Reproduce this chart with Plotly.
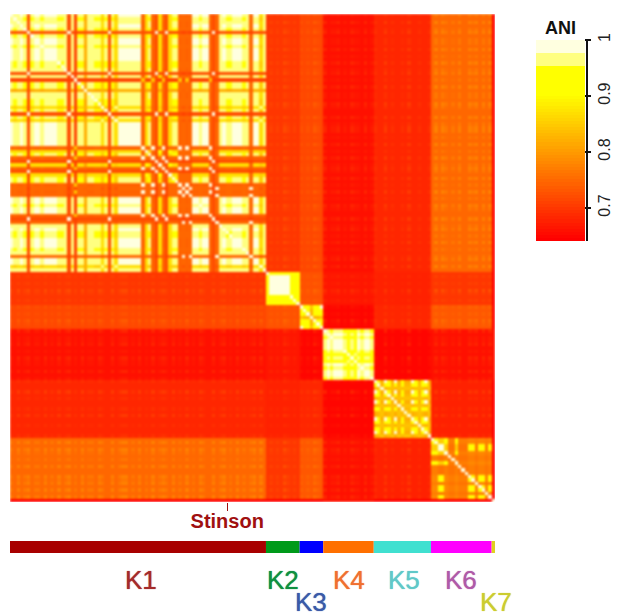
import plotly.graph_objects as go

W, H = 620, 616
cluster_names = ["K1", "K2", "K3", "K4", "K5", "K6", "K7"]
bar_colors = ["#a80000", "#009a1a", "#0000ff", "#ff7000", "#40e0d0", "#ff00ff", "#e0d020"]
label_colors = ["#a52a2a", "#0f9040", "#3a5aa8", "#f07030", "#60c8c8", "#b05aa8", "#cccc30"]

# strain types inside each cluster, read along the diagonal
k1_types = list("wbawbPbwwbwwwwbbaPaQbbGaabbCbPbCwwwwwwwRgbRPgRPgbbRURUwwbwwRPUawbbwwwbaUwwCa")
k2_types = list("bppppppbbb")
k3_types = list("abbObba")
k4_types = list("babaaabcbcabaab")
k5_types = list("abgabgagbggabgbag")
k6_types = list("nnmmnoonoooqqoqqoq")
k7_types = list("a")

k1_pairs = {"ww": .985, "aw": .965, "aa": .965, "ab": .955, "bw": .955, "bb": .935,
            "ag": .87, "gw": .87, "bg": .87, "gg": .93,
            "aP": .72, "bP": .72, "aQ": .71, "bQ": .71,
            "aR": .745, "bR": .75, "aU": .75, "bU": .75, "aG": .82, "bG": .81, "aC": .87, "bC": .85,
            "PP": .99, "QQ": 1.0, "RR": .99, "UU": .99, "CC": .96, "GG": 1.0,
            "PQ": .71, "PR": .72, "PU": .71, "GP": .72, "CP": .72, "QR": .84, "QU": .71,
            "GQ": .71, "CQ": .71, "RU": .73, "GR": .75, "CR": .74, "GU": .74, "CU": .73, "CG": .82}
k1_alias = {"w": "a", "g": "b"}
k2_pairs = {"pp": .985, "bp": .94, "bb": .93}
k3_pairs = {"aa": .985, "ab": .94, "bb": .93, "Oa": .84, "Ob": .82, "OO": 1.0}
k4_pairs = {"aa": .985, "ab": .96, "bb": .93, "ac": .93, "bc": .91, "cc": .96}
k5_pairs = {"aa": .985, "ab": .93, "bb": .94, "ag": .82, "bg": .83, "gg": .84}
k6_pairs = {"nn": .95, "mn": .85, "mm": .99, "qq": .93, "mq": .92, "nq": .78, "no": .77,
            "mo": .76, "oo": .76, "oq": .77}

between = [
    [None, .697, .715, .66, .68, .75, .641],
    [.697, None, .725, .665, .675, .70, .641],
    [.715, .725, None, .65, .68, .73, .641],
    [.66, .665, .65, None, .65, .66, .66],
    [.68, .675, .68, .65, None, .675, .641],
    [.75, .70, .73, .66, .675, None, .641],
    [.641, .641, .641, .66, .641, .641, None],
]
# speckle read from the off-diagonal blocks, per strain
k1_speck = "1020120110" "2010201201" "0201102100" "2012201020" "1020121020" "1020102100" "2012010201" "012020"
k2_speck = "0101021010"
k3_speck = "1010210"
k4_speck = "201120102110201"
k5_speck = "10020100102001001"
k6_speck = "020210102002120202"
k7_speck = "0"

stinson_index = [64]
stinson_label = ["<b>Stinson</b>"]
cb_ticks = [0.7, 0.8, 0.9, 1.0]
cb_text = ["0.7", "0.8", "0.9", "1"]

types = [k1_types, k2_types, k3_types, k4_types, k5_types, k6_types, k7_types]
pairs = [k1_pairs, k2_pairs, k3_pairs, k4_pairs, k5_pairs, k6_pairs, {"aa": 1.0}]
speck = [int(c) for c in k1_speck + k2_speck + k3_speck + k4_speck + k5_speck + k6_speck + k7_speck]
cluster_sizes = [len(t) for t in types]
owner, kind = [], []
for c, t in enumerate(types):
    owner += [c] * len(t)
    kind += t
n = len(kind)


def cell(i, j):
    if i == j:
        return 1.0
    if owner[i] != owner[j]:
        return between[owner[i]][owner[j]] + 0.006 * speck[i] * speck[j]
    table = pairs[owner[i]]
    a, b = kind[i], kind[j]
    v = table.get(a + b, table.get(b + a))
    if v is None:
        a, b = k1_alias.get(a, a), k1_alias.get(b, b)
        v = table.get(a + b, table.get(b + a))
    return v


z = [[cell(i, j) for j in range(n)] for i in range(n)]

# colour scale: stepped like R heat.colors
zmin, zmax = 0.641, 1.0
def sc(v):
    return (v - zmin) / (zmax - zmin)
scale = []
steps = 48
low, high = 0.641, 0.905
for k in range(steps):
    a, b = low + (high - low) * k / steps, low + (high - low) * (k + 1) / steps
    col = f"rgb(255,{round(255 * k / (steps - 1))},0)"
    scale += [[sc(a), col], [sc(b), col]]
scale += [[sc(.905), "#ffff00"], [sc(.953), "#ffff00"], [sc(.953), "#ffff80"], [sc(.977), "#ffff80"],
          [sc(.977), "#ffffe0"], [1, "#ffffe0"]]
scale[0][0] = 0

fig = go.Figure()
fig.add_trace(go.Heatmap(
    z=z, xaxis="x", yaxis="y", zmin=zmin, zmax=zmax, colorscale=scale, hoverinfo="skip",
    colorbar=dict(
        x=536 / W, xanchor="left", y=(H - 241) / H, yanchor="bottom",
        lenmode="pixels", len=200.5, thicknessmode="pixels", thickness=49,
        xpad=0, ypad=0, outlinewidth=0, ticks="outside", ticklen=6, tickwidth=2, tickcolor="#111",
        tickvals=cb_ticks, ticktext=cb_text, tickangle=-90,
        tickfont=dict(family="Liberation Sans", size=16, color="#222"),
    ),
))
base = 0
for name, size, colr in zip(cluster_names, cluster_sizes, bar_colors):
    fig.add_trace(go.Bar(x=[size], y=[0], base=[base], orientation="h", marker=dict(color=colr, line_width=0),
                         xaxis="x2", yaxis="y2", width=1, name=name, showlegend=False, hoverinfo="skip"))
    base += size

label_px = [141, 283, 311, 349, 404, 461, 496]
label_py = [580, 580, 602, 580, 580, 580, 602]
annotations = [dict(text=t, x=x / W, y=1 - y / H, xref="paper", yref="paper", showarrow=False,
                    xanchor="center", yanchor="middle",
                    font=dict(family="Liberation Sans", size=26, color=c, shadow=f"0 0 1px {c}"))
               for t, x, y, c in zip(cluster_names, label_px, label_py, label_colors)]
annotations.append(dict(text="<b>ANI</b>", x=560 / W, y=1 - 28 / H, xref="paper", yref="paper", showarrow=False,
                        xanchor="center", yanchor="middle",
                        font=dict(family="Liberation Sans", size=18, color="#111")))

fig.update_layout(
    width=W, height=H, margin=dict(l=0, r=0, t=0, b=0), paper_bgcolor="white", plot_bgcolor="white",
    barmode="overlay", annotations=annotations,
    xaxis=dict(domain=[10 / W, 495 / W], range=[-0.5, n - 0.5], showgrid=False, zeroline=False,
               tickmode="array", tickvals=stinson_index, ticktext=stinson_label, ticks="outside", ticklen=8,
               ticklabelstandoff=-7,
               tickwidth=1, tickcolor="#a01010", tickfont=dict(family="Liberation Sans", size=20, color="#a01010")),
    yaxis=dict(domain=[1 - 502 / H, 1 - 14 / H], range=[n - 0.5, -0.5], showgrid=False, zeroline=False,
               showticklabels=False, ticks=""),
    xaxis2=dict(domain=[10 / W, 495 / W], range=[0, n], anchor="y2", visible=False),
    yaxis2=dict(domain=[1 - 553 / H, 1 - 541 / H], range=[-0.5, 0.5], anchor="x2", visible=False),
    shapes=[dict(type="line", xref="paper", yref="paper", x0=587 / W, x1=587 / W, y0=1 - 241 / H, y1=1 - 40.7 / H,
                 line=dict(color="#111", width=2))],
)
fig.write_html("out.html", config={"displayModeBar": False},
               post_script="document.body.style.margin='0';"
                           "document.querySelectorAll('.hm image').forEach(e=>e.style.filter='blur(0.8px)');")
